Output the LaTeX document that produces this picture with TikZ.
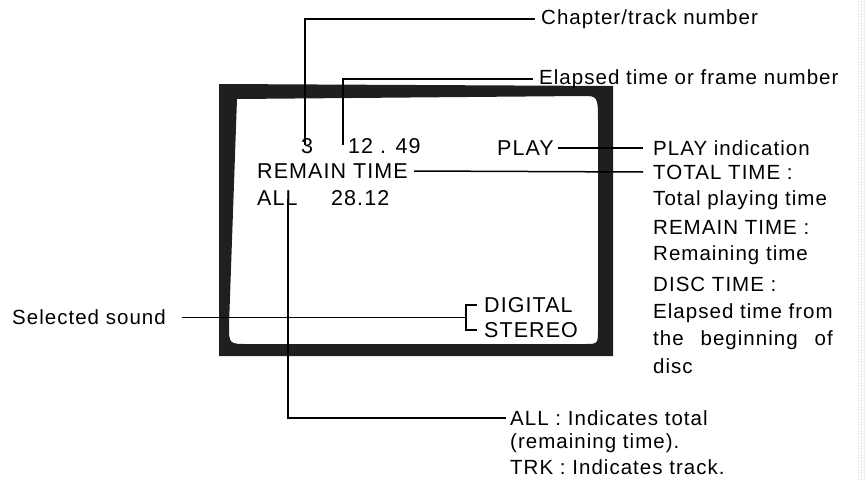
\documentclass[tikz,border=0pt]{standalone}
\usepackage{fontspec}
\setmainfont{Liberation Sans}[LetterSpace=5]
\usetikzlibrary{calc,patterns}
\begin{document}
\begin{tikzpicture}[x=1pt,y=-1pt,
  lbl/.style={font=\fontsize{20.5}{20.5}\selectfont, inner sep=0pt, anchor=west},
  scr/.style={font=\fontsize{21.5}{21.5}\selectfont, inner sep=0pt, anchor=west},
  conn/.style={line width=1.5pt}]
\useasboundingbox (0,0) rectangle (866,479);
\fill[pattern=dots, pattern color=black!45] (858,0) rectangle (866,479);
% screen frame
\fill[black!88, even odd rule]
  (219,84) -- (613,86) -- (613,356) -- (219,356) -- cycle
  (237,99) -- (583,96) .. controls (598,96) .. (598,125) -- (598,328)
  .. controls (598,344) .. (585,344) -- (248,344) .. controls (229,344) .. (229,325) -- cycle;
% screen texts
\node[scr] (n3) at (301,146) {3};
\node[scr] (t1249) at (348,146) {12 . 49};
\node[scr] (play) at (497,148) {PLAY};
\node[scr] (remain) at (257,171) {REMAIN TIME};
\node[scr] (all) at (257,198) {ALL};
\node[scr] (t2812) at (331,198) {28.12};
\node[scr] (digital) at (484,305) {DIGITAL};
\node[scr] (stereo) at (484,330) {STEREO};
% labels
\node[lbl] (chap) at (541,19) {Chapter/track number};
\node[lbl] (elap) at (539,79) {Elapsed time or frame number};
\node[lbl] (playind) at (653,148) {PLAY indication};
\node[lbl] (total) at (653,172) {TOTAL TIME :};
\node[lbl] (r1) at (653,200) {Total playing time};
\node[lbl] (r2) at (653,227) {REMAIN TIME :};
\node[lbl] (r3) at (653,255) {Remaining time};
\node[lbl] (r4) at (653,284) {DISC TIME :};
\node[lbl] (r5) at (653,313) {Elapsed time from};
\node[lbl] (r6) at (653,340) {\settowidth{\dimen0}{Elapsed time from}\makebox[\dimen0][s]{the beginning of}};
\node[lbl] (r7) at (653,366) {disc};
\node[lbl] (sel) at (12,317.5) {Selected sound};
\node[lbl] (allind) at (510,418) {ALL : Indicates total};
\node[lbl] (b2) at (510,443) {(remaining time).};
\node[lbl] (b3) at (510,467) {TRK : Indicates track.};
% connector anchors
\coordinate (c3) at ([xshift=-2pt,yshift=-7pt]n3.north);
\coordinate (c12) at ([xshift=-5pt,yshift=-7pt]t1249.north west);
\coordinate (call) at ([xshift=-10pt,yshift=7pt]all.south east);
\coordinate (brk) at ([xshift=-18pt]$(digital.west)!0.5!(stereo.west)$);
% connectors
\draw[conn] (c3) |- ([xshift=-6pt]chap.west);
\draw[conn] (c12) |- ([xshift=-6pt]elap.west);
\draw[conn] ([xshift=4pt]play.east) -- ([xshift=-10pt]playind.west);
\draw[conn] ([xshift=6pt]remain.east) -- ([xshift=-10pt]total.west);
\draw[conn] (call) |- ([xshift=-4pt]allind.west);
\draw[conn] ([xshift=-7pt]digital.west) -| (brk) |- ([xshift=-7pt]stereo.west);
\draw[conn] ([xshift=16pt]sel.east) -- (brk);
\end{tikzpicture}
\end{document}
